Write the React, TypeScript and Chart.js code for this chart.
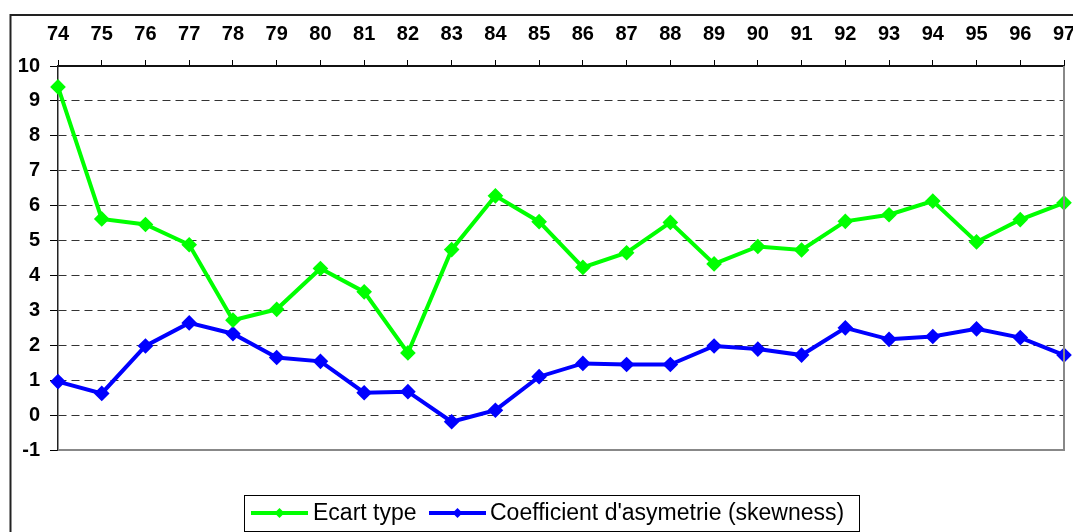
import React, { useEffect, useRef } from "react";
import { Chart, registerables } from "chart.js";

Chart.register(...registerables);

const years = ["74", "75", "76", "77", "78", "79", "80", "81", "82", "83", "84", "85", "86", "87", "88", "89", "90", "91", "92", "93", "94", "95", "96", "97"];
const ecartType = [9.4, 5.62, 5.46, 4.88, 2.72, 3.03, 4.2, 3.53, 1.78, 4.74, 6.28, 5.54, 4.23, 4.65, 5.52, 4.33, 4.83, 4.73, 5.55, 5.74, 6.13, 4.96, 5.6, 6.08];
const skewness = [0.96, 0.62, 1.98, 2.64, 2.33, 1.65, 1.54, 0.64, 0.67, -0.19, 0.14, 1.1, 1.48, 1.45, 1.45, 1.98, 1.89, 1.72, 2.5, 2.17, 2.25, 2.47, 2.22, 1.72];
const seriesLabels = ["Ecart type", "Coefficient d'asymetrie (skewness)"];
const seriesColors = ["#00FF00", "#0000FF"];

const FONT = "'Liberation Sans', Arial, Helvetica, sans-serif";

const framePlugin = {
  id: "frame",
  beforeDraw(chart: any) {
    const ctx = chart.ctx;
    ctx.save();
    ctx.fillStyle = "#fff";
    ctx.fillRect(0, 0, chart.width, chart.height);
    ctx.restore();
  },
  afterDraw(chart: any) {
    const ctx = chart.ctx;
    const a = chart.chartArea;
    ctx.save();
    // outer frame
    ctx.strokeStyle = "#222";
    ctx.lineWidth = 2;
    ctx.beginPath();
    ctx.moveTo(10.5, chart.height + 2);
    ctx.lineTo(10.5, 15);
    ctx.lineTo(chart.width + 2, 15);
    ctx.stroke();
    // right and bottom plot borders
    ctx.strokeStyle = "#888";
    ctx.lineWidth = 2;
    ctx.beginPath();
    ctx.moveTo(a.left, a.bottom);
    ctx.lineTo(a.right, a.bottom);
    ctx.lineTo(a.right, a.top);
    ctx.stroke();
    // legend
    ctx.strokeStyle = "#000";
    ctx.lineWidth = 1;
    ctx.strokeRect(244.5, 495.5, 615, 36);
    const ly = 513;
    const items = [
      { x0: 251, x1: 308, tx: 313 },
      { x0: 429, x1: 486, tx: 490 },
    ];
    chart.data.datasets.forEach((ds: any, i: number) => {
      const it = items[i];
      ctx.strokeStyle = ds.borderColor;
      ctx.fillStyle = ds.borderColor;
      ctx.lineWidth = 4;
      ctx.beginPath();
      ctx.moveTo(it.x0, ly);
      ctx.lineTo(it.x1, ly);
      ctx.stroke();
      const cx = (it.x0 + it.x1) / 2;
      ctx.beginPath();
      ctx.moveTo(cx, ly - 5);
      ctx.lineTo(cx + 5, ly);
      ctx.lineTo(cx, ly + 5);
      ctx.lineTo(cx - 5, ly);
      ctx.closePath();
      ctx.fill();
      ctx.fillStyle = "#000";
      ctx.font = `23px ${FONT}`;
      ctx.textBaseline = "middle";
      ctx.textAlign = "left";
      ctx.fillText(ds.label, it.tx, ly + 1);
    });
    ctx.restore();
  },
};

export default function App() {
  const ref = useRef<HTMLCanvasElement | null>(null);
  useEffect(() => {
    if (!ref.current) return;
    const chart = new Chart(ref.current, {
      type: "line",
      data: {
        labels: years,
        datasets: [
          {
            label: seriesLabels[0],
            data: ecartType,
            borderColor: seriesColors[0],
            backgroundColor: seriesColors[0],
            borderWidth: 4,
            pointStyle: "rectRot",
            pointRadius: 5,
            pointHoverRadius: 5,
            tension: 0,
            clip: false as any,
          },
          {
            label: seriesLabels[1],
            data: skewness,
            borderColor: seriesColors[1],
            backgroundColor: seriesColors[1],
            borderWidth: 4,
            pointStyle: "rectRot",
            pointRadius: 5,
            pointHoverRadius: 5,
            tension: 0,
            clip: false as any,
          },
        ],
      },
      options: {
        animation: false,
        responsive: false,
        devicePixelRatio: 1,
        layout: { padding: { left: 0, right: 6, top: 0, bottom: 82 } },
        plugins: { legend: { display: false }, tooltip: { enabled: false } },
        scales: {
          x: {
            type: "category",
            position: "top",
            offset: false,
            grid: {
              drawOnChartArea: false,
              drawTicks: true,
              tickLength: 6,
              color: "#000",
              tickColor: "#000",
              tickWidth: 1,
            },
            border: { display: true, color: "#111", width: 2 },
            ticks: {
              color: "#000",
              font: { family: FONT, size: 20, weight: "bold" },
              padding: 14,
              maxRotation: 0,
              minRotation: 0,
              autoSkip: false,
            },
            afterFit(scale: any) {
              scale.height = 66;
              scale.paddingLeft = 0;
              scale.paddingRight = 0;
            },
          },
          y: {
            min: -1,
            max: 10,
            grid: {
              color: (c: any) => (c.tick && c.tick.value === -1 ? "rgba(0,0,0,0)" : "#333"),
              lineWidth: 1,
              tickLength: 8,
              tickColor: "#000",
              tickWidth: 1,
              tickBorderDash: [],
            } as any,
            border: { display: true, color: "#222", width: 1.5, dash: [8, 5] },
            ticks: {
              stepSize: 1,
              color: "#000",
              font: { family: FONT, size: 20, weight: "bold" },
              padding: 10,
            },
            afterFit(scale: any) {
              scale.width = 58;
              scale.paddingTop = 0;
              scale.paddingBottom = 0;
            },
          },
        },
      },
      plugins: [framePlugin],
    });
    return () => chart.destroy();
  }, []);
  return (
    <div style={{ position: "fixed", left: 0, top: 0, width: 1073, height: 532, background: "#fff" }}>
      <canvas ref={ref} width={1073} height={532} style={{ display: "block" }} />
    </div>
  );
}
